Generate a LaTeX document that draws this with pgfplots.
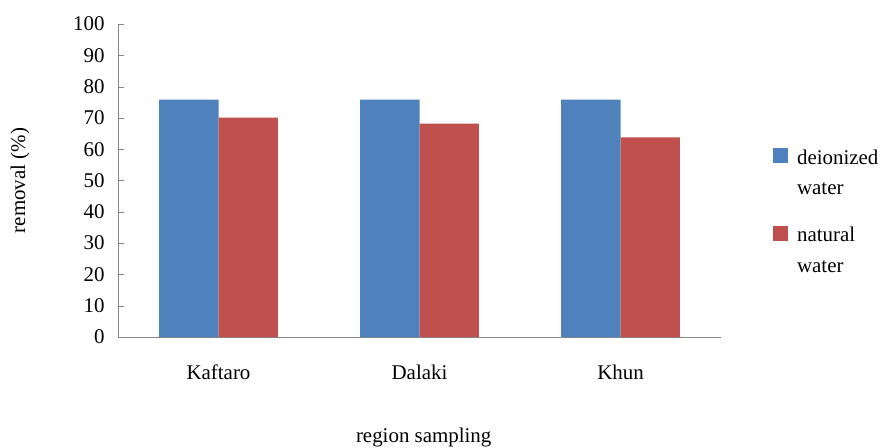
\documentclass[border=0pt]{standalone}
\usepackage{fontspec}
\setmainfont{Liberation Serif}
\usepackage{pgfplots}
\pgfplotsset{compat=1.18}
\definecolor{cblue}{HTML}{4F81BD}
\definecolor{cred}{HTML}{C0504D}
\definecolor{axgray}{HTML}{868686}
\begin{document}
\begin{tikzpicture}
\useasboundingbox (-118bp,-111bp) rectangle (769bp,337bp);
\begin{axis}[
  at={(0,0)}, anchor=south west,
  scale only axis,
  width=603bp, height=313bp,
  ybar=0pt, bar width=0.295,
  xmin=-0.5, xmax=2.5,
  ymin=0, ymax=100,
  ytick={0,10,...,100},
  xtick={0,1,2},
  xticklabels={Kaftaro,Dalaki,Khun},
  extra x ticks={0.5,1.5,2.5},
  extra x tick labels={},
  extra x tick style={tick style={axgray}},
  x tick style={draw=none},
  y tick style={axgray},
  major tick length=6bp,
  tick align=inside,
  axis lines*=left,
  axis line style={axgray, thick},
  /pgf/number format/assume math mode=true,
  ticklabel style={font=\fontsize{21}{25}\selectfont},
  yticklabel style={xshift=-10bp},
  xticklabel style={yshift=-24bp},
  ylabel={removal (\%)},
  xlabel={region sampling},
  label style={font=\fontsize{21}{25}\selectfont},
  ylabel style={at={(axis description cs:-0.1625,0.5)}, anchor=center},
  xlabel style={at={(axis description cs:0.507,0)}, yshift=-100bp, anchor=center},
  legend style={at={(axis description cs:1.086,0.606)}, anchor=north west, draw=none,
    font=\fontsize{21}{31}\selectfont, cells={anchor=base west, align=left}, row sep=27bp,
    column sep=7bp, inner sep=0pt},
  legend image code/.code={\fill[#1] (0bp,32bp) rectangle (15bp,47bp);},
  enlarge x limits=false,
]
\addplot[fill=cblue, draw=none] coordinates {(0,75.8) (1,75.8) (2,75.8)};
\addplot[fill=cred, draw=none] coordinates {(0,70.1) (1,68.2) (2,63.8)};
\legend{deionized\\water, natural\\water}
\end{axis}
\end{tikzpicture}
\end{document}
